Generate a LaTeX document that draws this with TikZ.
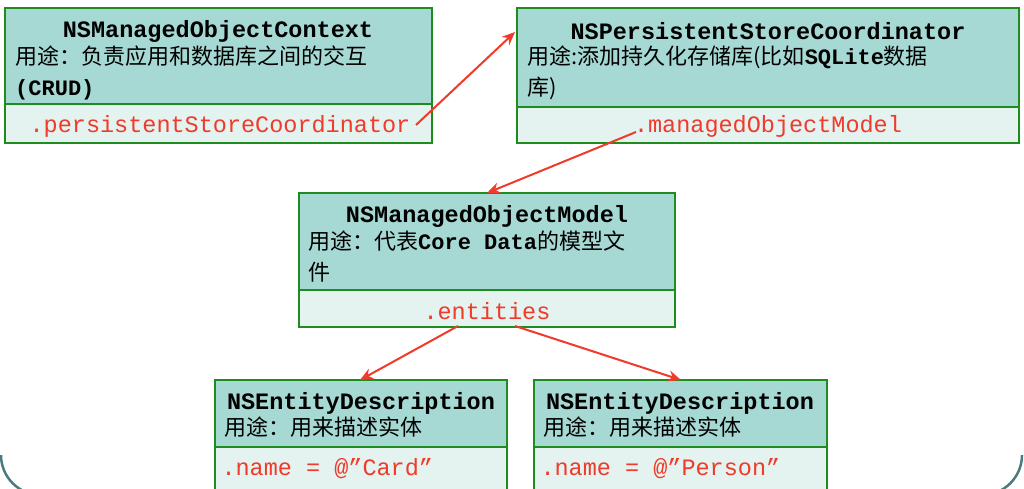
\documentclass[tikz,border=0pt]{standalone}
\usepackage{fontspec}
\setmonofont{Liberation Mono}
\newfontfamily\cjk{Noto Sans CJK SC}
\usetikzlibrary{arrows.meta}
\definecolor{hdr}{HTML}{A6D8D4}
\definecolor{low}{HTML}{E4F2F0}
\definecolor{bord}{HTML}{1E8C1E}
\definecolor{arr}{HTML}{F03A2A}
\definecolor{frame}{HTML}{4A7C7C}
\begin{document}
\begin{tikzpicture}[x=1pt,y=-1pt,
  hbox/.style={draw=bord,fill=hdr,line width=1.2pt},
  lbox/.style={draw=bord,fill=low,line width=1.2pt},
  ttl/.style={font=\ttfamily\bfseries\fontsize{23.5}{28}\selectfont,anchor=center},
  desc/.style={font=\fontsize{22}{31}\selectfont,anchor=north west,align=left,inner sep=0pt},
  attr/.style={font=\ttfamily\fontsize{23.5}{28}\selectfont,text=arr},
  ar/.style={draw=arr,line width=2pt,-{Stealth[length=13pt,width=11pt]}}]
\useasboundingbox (0,0) rectangle (1024,488);
\begin{scope}
\clip (0,0) rectangle (1024,488);
\draw[frame,line width=2.5pt,rounded corners=40pt] (1,-100) rectangle (1022,495);
\fill[white] (-5,-100) rectangle (1030,455);
% A
\draw[hbox] (5,8) rectangle (432,104);
\draw[lbox] (5,104) rectangle (432,143);
\node[ttl] (at1) at (218,31) {NSManagedObjectContext};
\node[desc] (ad) at (15,46) {{\cjk 用途：负责应用和数据库之间的交互}\\{\ttfamily\bfseries (CRUD)}};
\node[attr] (aa) at (220,126) {.persistentStoreCoordinator};
% B
\draw[hbox] (517,8) rectangle (1019,107);
\draw[lbox] (517,107) rectangle (1019,143);
\node[ttl] (bt) at (768,31) {NSPersistentStoreCoordinator};
\node[desc] (bd) at (527,46) {{\cjk 用途:添加持久化存储库(比如}{\ttfamily\bfseries SQLite}{\cjk 数据}\\{\cjk 库)}};
\node[attr] (ba) at (768,126) {.managedObjectModel};
% C
\draw[hbox] (299,193) rectangle (675,290);
\draw[lbox] (299,290) rectangle (675,327);
\node[ttl] (ct) at (487,216) {NSManagedObjectModel};
\node[desc] (cd) at (308,231) {{\cjk 用途：代表}{\ttfamily\bfseries Core Data}{\cjk 的模型文}\\{\cjk 件}};
\node[attr] (ca) at (487,311) {.entities};
% D
\draw[hbox] (215,380) rectangle (507,447);
\draw[lbox] (215,447) rectangle (507,490);
\node[ttl] (dt) at (361,403) {NSEntityDescription};
\node[desc] (dd) at (224,417) {\cjk 用途：用来描述实体};
\node[attr,anchor=west] (da) at (218,469) {.name = @”Card”};
% E
\draw[hbox] (534,380) rectangle (827,447);
\draw[lbox] (534,447) rectangle (827,490);
\node[ttl] (et) at (680,403) {NSEntityDescription};
\node[desc] (ed) at (543,417) {\cjk 用途：用来描述实体};
\node[attr,anchor=west] (ea) at (537,469) {.name = @”Person”};
% arrows
\coordinate (a1) at (416,125);
\coordinate (b1) at (515,32);
\coordinate (b2) at (636,132);
\coordinate (c1) at (487,193);
\coordinate (c2) at (458,326);
\coordinate (d1) at (360,380);
\coordinate (c3) at (515,326);
\coordinate (e1) at (681,380);
\draw[ar] (a1) -- (b1);
\draw[ar] (b2) -- (c1);
\draw[ar] (c2) -- (d1);
\draw[ar] (c3) -- (e1);
\end{scope}
\end{tikzpicture}
\end{document}
